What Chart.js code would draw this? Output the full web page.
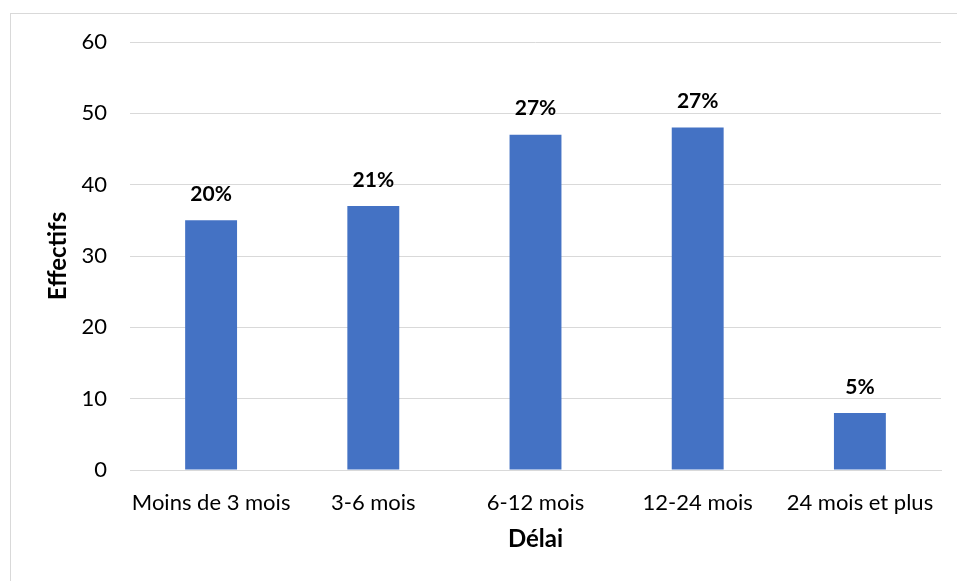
<!DOCTYPE html>
<html>
<head>
<meta charset="utf-8">
<script src="https://cdn.jsdelivr.net/npm/chart.js@4"></script>
<style>
  body { margin: 0; background: #fff; }
  #frame { position: absolute; left: 10px; top: 13px; width: 960px; height: 600px;
           border-left: 1px solid #d9d9d9; border-top: 1px solid #d9d9d9; }
  #wrap { position: absolute; left: 11px; top: 14px; width: 946px; height: 567px; }
</style>
</head>
<body>
<div id="frame"></div>
<div id="wrap"><canvas id="barChart"></canvas></div>
<script>
const categories = ["Moins de 3 mois", "3-6 mois", "6-12 mois", "12-24 mois", "24 mois et plus"];
const effectifs = [35, 37, 47, 48, 8];
const percentLabels = ["20%", "21%", "27%", "27%", "5%"];

const FONT = "Lato, 'Open Sans', sans-serif";

// draw percent labels above bars
const percentPlugin = {
  id: "percentLabels",
  afterDatasetsDraw(chart) {
    const ctx = chart.ctx;
    const meta = chart.getDatasetMeta(0);
    ctx.save();
    ctx.font = "bold 21px " + FONT;
    ctx.fillStyle = "#000";
    ctx.textAlign = "center";
    ctx.textBaseline = "middle";
    meta.data.forEach((bar, i) => {
      ctx.fillText(percentLabels[i], bar.x, bar.y - 26);
    });
    ctx.restore();
  }
};

const barChartCtx = document.getElementById("barChart").getContext("2d");
const barChart = new Chart(barChartCtx, {
  type: "bar",
  data: {
    labels: categories,
    datasets: [{ label: "Effectifs", data: effectifs, backgroundColor: "#4472c4",
                 barPercentage: 0.32, categoryPercentage: 1 }]
  },
  options: {
    responsive: true,
    maintainAspectRatio: false,
    animation: false,
    layout: { padding: { left: 0, right: 16, top: 28, bottom: 0 } },
    plugins: { legend: { display: false }, tooltip: { enabled: false } },
    scales: {
      x: {
        grid: { display: false, drawTicks: false },
        border: { color: "#d9d9d9", width: 1 },
        ticks: { color: "#000", font: { family: FONT, size: 22 }, padding: 20, maxRotation: 0 },
        title: { display: true, text: "Délai", color: "#000",
                 font: { family: FONT, size: 24, weight: "bold" }, padding: { bottom: 27 } },
        afterFit(scale) { scale.height = 111; }
      },
      y: {
        min: 0, max: 60,
        grid: { color: "#d9d9d9", lineWidth: 1, drawTicks: true, tickLength: 13, tickColor: "rgba(0,0,0,0)" },
        border: { display: false },
        ticks: { stepSize: 10, color: "#000", font: { family: FONT, size: 22 }, padding: 10 },
        title: { display: true, text: "Effectifs", color: "#000",
                 font: { family: FONT, size: 24, weight: "bold" }, padding: { top: 33 } },
        afterFit(scale) { scale.width = 119; }
      }
    }
  },
  plugins: [percentPlugin]
});
</script>
</body>
</html>
